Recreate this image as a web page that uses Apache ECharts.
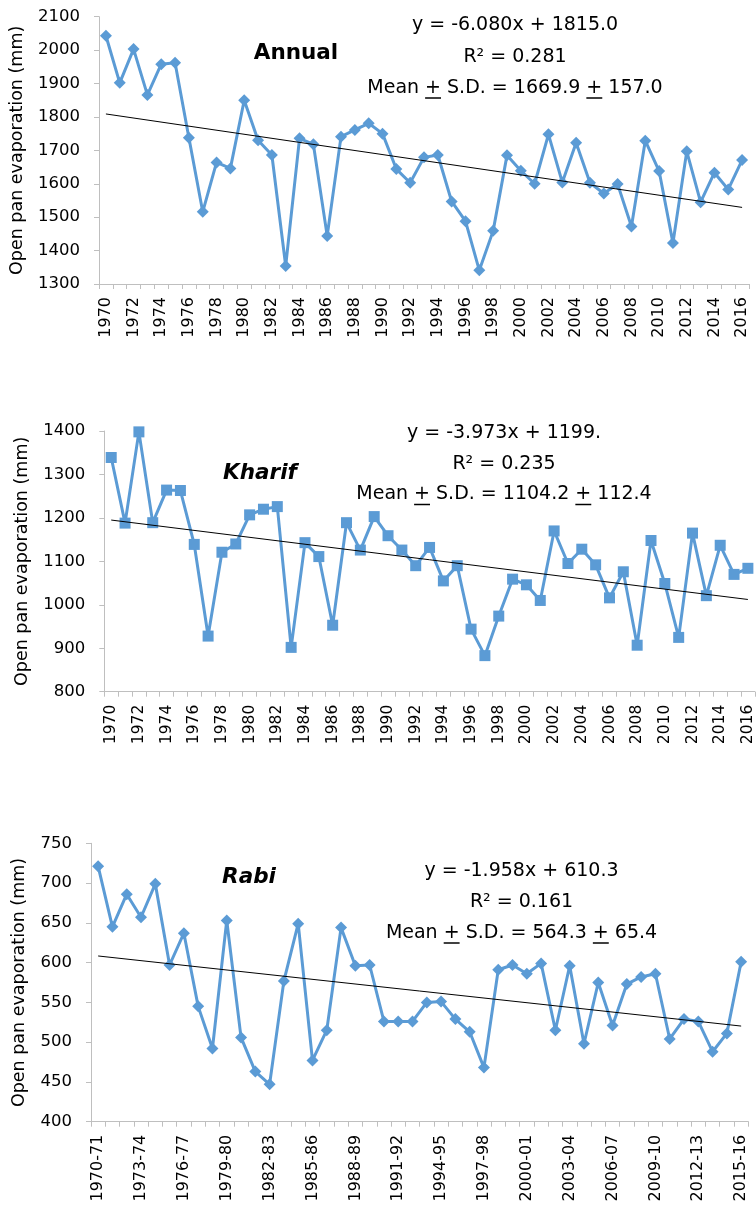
<!DOCTYPE html>
<html>
<head>
<meta charset="utf-8">
<script src="https://cdn.jsdelivr.net/npm/echarts@6/dist/echarts.min.js"></script>
<style>
  html, body { margin: 0; padding: 0; background: #fff; }
  #chart { width: 756px; height: 1208px; }
</style>
</head>
<body>
<div id="chart"></div>
<script>
// ---- Categories ----
const years = ['1970','1971','1972','1973','1974','1975','1976','1977','1978','1979',
  '1980','1981','1982','1983','1984','1985','1986','1987','1988','1989',
  '1990','1991','1992','1993','1994','1995','1996','1997','1998','1999',
  '2000','2001','2002','2003','2004','2005','2006','2007','2008','2009',
  '2010','2011','2012','2013','2014','2015','2016'];

const rabiSeasons = ['1970-71','1971-72','1972-73','1973-74','1974-75','1975-76','1976-77','1977-78','1978-79','1979-80',
  '1980-81','1981-82','1982-83','1983-84','1984-85','1985-86','1986-87','1987-88','1988-89','1989-90',
  '1990-91','1991-92','1992-93','1993-94','1994-95','1995-96','1996-97','1997-98','1998-99','1999-00',
  '2000-01','2001-02','2002-03','2003-04','2004-05','2005-06','2006-07','2007-08','2008-09','2009-10',
  '2010-11','2011-12','2012-13','2013-14','2014-15','2015-16'];

// ---- Open pan evaporation (mm) ----
const annualEvap = [2043, 1902, 2003, 1866, 1958, 1962, 1738, 1516, 1664, 1646,
  1850, 1730, 1686, 1354, 1736, 1718, 1444, 1741, 1761, 1781,
  1750, 1644, 1603, 1679, 1686, 1547, 1488, 1341, 1459, 1685,
  1639, 1600, 1748, 1604, 1723, 1603, 1571, 1599, 1472, 1729,
  1638, 1423, 1697, 1545, 1633, 1583, 1671];

const kharifEvap = [1339, 1188, 1398, 1189, 1264, 1263, 1139, 928, 1121, 1140,
  1207, 1220, 1226, 902, 1143, 1111, 953, 1189, 1126, 1203,
  1159, 1126, 1090, 1132, 1055, 1090, 944, 883, 974, 1059,
  1046, 1010, 1170, 1095, 1128, 1092, 1016, 1076, 907, 1148,
  1049, 925, 1165, 1021, 1137, 1070, 1084];

const rabiEvap = [721, 645, 686, 657, 699, 597, 637, 545, 492, 653,
  506, 463, 447, 577, 649, 477, 515, 644, 596, 597,
  526, 526, 526, 550, 551, 529, 513, 468, 591, 597,
  586, 599, 515, 596, 498, 575, 521, 573, 582, 586,
  504, 529, 526, 488, 511, 601];

// ---- Linear trend coefficients (x = 1 for the first season) ----
const annualTrend = { slope: -6.080, intercept: 1815.0 };
const kharifTrend = { slope: -3.973, intercept: 1199 };
const rabiTrend   = { slope: -1.958, intercept: 610.3 };

// ---- Annotation texts ----
const annualNotes = { title: 'Annual', eq: 'y = -6.080x + 1815.0', r2: 'R\u00B2 = 0.281', mean: ['Mean ', '+', ' S.D. = 1669.9 ', '+', ' 157.0'] };
const kharifNotes = { title: 'Kharif', eq: 'y = -3.973x + 1199.', r2: 'R\u00B2 = 0.235', mean: ['Mean ', '+', ' S.D. = 1104.2 ', '+', ' 112.4'] };
const rabiNotes   = { title: 'Rabi',   eq: 'y = -1.958x + 610.3', r2: 'R\u00B2 = 0.161', mean: ['Mean ', '+', ' S.D. = 564.3 ', '+', ' 65.4'] };

const FONT = 'DejaVu Sans';
const BLUE = '#5B9BD5';
const AXIS_GREY = '#bfbfbf';

// endpoints of a fitted trend line across the category range
function trendData(trend, n) {
  const d = new Array(n).fill(null);
  d[0] = trend.intercept + trend.slope * 1;
  d[n - 1] = trend.intercept + trend.slope * n;
  return d;
}

const measureCtx = document.createElement('canvas').getContext('2d');
function textWidth(str, font) {
  measureCtx.font = font;
  return measureCtx.measureText(str).width;
}

// title + regression text block for one panel
function notes(cfg, n) {
  const eqFont = '19px "' + FONT + '"';
  const items = [
    { type: 'text', x: n.titleX, y: n.titleY,
      style: { text: cfg.title, fill: '#000', font: (n.italic ? 'italic ' : '') + 'bold 21.5px "' + FONT + '"',
               align: 'center', verticalAlign: 'middle', textAlign: 'center', textVerticalAlign: 'middle' } },
    { type: 'text', x: n.cx, y: n.eqY,
      style: { text: cfg.eq, fill: '#000', font: eqFont, align: 'center', verticalAlign: 'middle', textAlign: 'center', textVerticalAlign: 'middle' } },
    { type: 'text', x: n.cx, y: n.r2Y,
      style: { text: cfg.r2, fill: '#000', font: eqFont, align: 'center', verticalAlign: 'middle', textAlign: 'center', textVerticalAlign: 'middle' } }
  ];
  const full = cfg.mean.join('');
  const total = textWidth(full, eqFont);
  const x0 = n.cx - total / 2;
  items.push({ type: 'text', x: x0, y: n.meanY,
    style: { text: full, fill: '#000', font: eqFont, align: 'left', verticalAlign: 'middle', textAlign: 'left', textVerticalAlign: 'middle' } });
  // underline each "+" so it reads as plus-or-minus
  let prefix = '';
  cfg.mean.forEach(function (part) {
    if (part === '+') {
      const sx = x0 + textWidth(prefix, eqFont);
      const w = textWidth('+', eqFont);
      items.push({ type: 'line', shape: { x1: sx, y1: n.meanY + 10, x2: sx + w, y2: n.meanY + 10 },
        style: { stroke: '#000', lineWidth: 1.5 } });
    }
    prefix += part;
  });
  return items;
}

function xAxisCfg(idx, data, labelInterval, fontSize) {
  return {
    type: 'category', gridIndex: idx, data: data, boundaryGap: true,
    axisLine: { lineStyle: { color: AXIS_GREY, width: 1 } },
    axisTick: { show: true, interval: 0, length: 5, lineStyle: { color: AXIS_GREY } },
    axisLabel: { interval: labelInterval, rotate: 90, margin: 13, color: '#000', fontFamily: FONT, fontSize: fontSize },
    splitLine: { show: false }
  };
}

function yAxisCfg(idx, min, max, interval, nameGap) {
  return {
    type: 'value', gridIndex: idx, min: min, max: max, interval: interval,
    axisLine: { show: true, lineStyle: { color: AXIS_GREY, width: 1 } },
    axisTick: { show: true, length: 5, lineStyle: { color: AXIS_GREY } },
    axisLabel: { margin: 19, color: '#000', fontFamily: FONT, fontSize: 16.5,
                 formatter: function (v) { return String(v); } },
    splitLine: { show: false },
    name: 'Open pan evaporation (mm)', nameLocation: 'middle', nameGap: nameGap,
    nameTextStyle: { color: '#000', fontFamily: FONT, fontSize: 17.5 }
  };
}

function dataSeries(idx, values, symbol, size) {
  return {
    type: 'line', xAxisIndex: idx, yAxisIndex: idx, data: values,
    symbol: symbol, symbolSize: size, showSymbol: true, showAllSymbol: true,
    lineStyle: { color: BLUE, width: 3 },
    itemStyle: { color: BLUE },
    z: 3
  };
}

function trendSeries(idx, trend, n) {
  return {
    type: 'line', xAxisIndex: idx, yAxisIndex: idx, data: trendData(trend, n),
    connectNulls: true, symbol: 'none',
    lineStyle: { color: '#000', width: 1 },
    z: 4, silent: true
  };
}

const chart = echarts.init(document.getElementById('chart'), null, { renderer: 'canvas' });
chart.setOption({
  animation: false,
  backgroundColor: '#fff',
  textStyle: { fontFamily: FONT },
  grid: [
    { left: 99,  width: 650,   top: 16.7,  height: 267.3 },
    { left: 104.3, width: 650.5, top: 431,  height: 260.7 },
    { left: 91,  width: 657.3, top: 843.3, height: 278.4 }
  ],
  xAxis: [
    xAxisCfg(0, years, 1, 16),
    xAxisCfg(1, years, 1, 15.5),
    xAxisCfg(2, rabiSeasons, 2, 16)
  ],
  yAxis: [
    yAxisCfg(0, 1300, 2100, 100, 73),
    yAxisCfg(1, 800, 1400, 100, 73),
    yAxisCfg(2, 400, 750, 50, 63)
  ],
  series: [
    dataSeries(0, annualEvap, 'diamond', 12),
    trendSeries(0, annualTrend, annualEvap.length),
    dataSeries(1, kharifEvap, 'rect', 11),
    trendSeries(1, kharifTrend, kharifEvap.length),
    dataSeries(2, rabiEvap, 'diamond', 12),
    trendSeries(2, rabiTrend, rabiEvap.length)
  ],
  graphic: [].concat(
    notes(annualNotes, { titleX: 296, titleY: 53,  italic: false, cx: 515, eqY: 25,  r2Y: 57,  meanY: 88 }),
    notes(kharifNotes, { titleX: 260, titleY: 473, italic: true,  cx: 504, eqY: 433, r2Y: 464, meanY: 494.5 }),
    notes(rabiNotes,   { titleX: 249, titleY: 877, italic: true,  cx: 521.5, eqY: 871, r2Y: 902.5, meanY: 933 })
  )
});
</script>
</body>
</html>
